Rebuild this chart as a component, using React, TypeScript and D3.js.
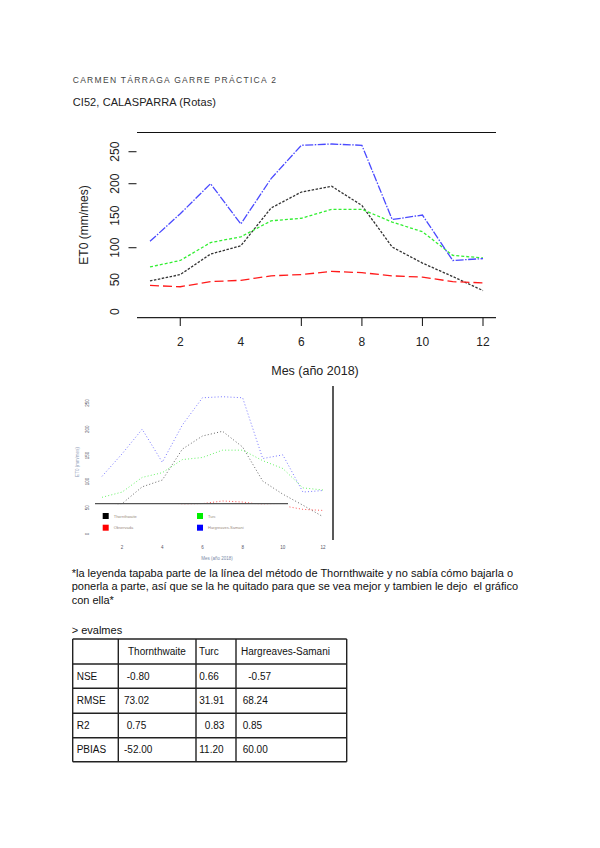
import * as d3 from "d3";

// meses 1..12 (2018)
const months = [1, 2, 3, 4, 5, 6, 7, 8, 9, 10, 11, 12];
const thornthwaite = [48, 58, 90, 103, 162, 187, 196, 166, 101, 76, 55, 33];
const turc = [70, 80, 108, 117, 142, 146, 160, 160, 140, 125, 88, 84];
const observada = [41, 39, 47, 49, 56, 58, 63, 61, 56, 54, 47, 45];
const hargreaves = [110, 153, 200, 137, 208, 260, 262, 260, 144, 151, 80, 83];

const yTickVals = [0, 50, 100, 150, 200, 250];
const yTickMarks = [100, 200, 250];
const xTickVals = [2, 4, 6, 8, 10, 12];
const xTickMarks = [2, 6, 8, 10, 12];

const series = [
  { name: "Thornthwaite", values: thornthwaite, color: "#333333", dash: "2.5,1.5" },
  { name: "Turc", values: turc, color: "#33ee33", dash: "3,2" },
  { name: "Observada", values: observada, color: "#ff1a1a", dash: "9,4" },
  { name: "Hargreaves-Samani", values: hargreaves, color: "#4a4aff", dash: "8,1.5,1.5,1.5" },
];

const legendItems = [
  { name: "Thornthwaite", color: "#000000", col: 0, row: 0 },
  { name: "Turc", color: "#00ee00", col: 1, row: 0 },
  { name: "Observada", color: "#ff0000", col: 0, row: 1 },
  { name: "Hargreaves-Samani", color: "#0000ff", col: 1, row: 1 },
];

const paragraph = [
  "*la leyenda tapaba parte de la línea del método de Thornthwaite y no sabía cómo bajarla o",
  "ponerla a parte, así que se la he quitado para que se vea mejor y tambien le dejo  el gráfico",
  "con ella*",
];

const tableHeader = ["", "Thornthwaite", "Turc", "Hargreaves-Samani"];
const tableRows = [
  ["NSE", " -0.80", "0.66", "  -0.57"],
  ["RMSE", "73.02", "31.91", "68.24"],
  ["R2", " 0.75", "  0.83", "0.85"],
  ["PBIAS", "-52.00", "11.20", "60.00"],
];

const FONT = "'Liberation Sans', Arial, sans-serif";

function MainChart() {
  const x = d3.scaleLinear([1, 12], [150, 483]);
  const y = d3.scaleLinear([0, 250], [311.7, 151.7]);
  const line = (vals: number[]) =>
    d3.line<number>().x((_, i) => x(months[i])).y((d) => y(d))(vals) ?? "";
  return (
    <g fontFamily={FONT}>
      <line x1={137} x2={496} y1={132.5} y2={132.5} stroke="#111" strokeWidth={1.2} />
      <line x1={137} x2={496} y1={317.7} y2={317.7} stroke="#222" strokeWidth={1.2} />
      {xTickMarks.map((t) => (
        <line key={t} x1={x(t)} x2={x(t)} y1={317.7} y2={326} stroke="#222" strokeWidth={1.1} />
      ))}
      {xTickVals.map((t) => (
        <text key={t} x={x(t)} y={346} textAnchor="middle" fontSize={12} fill="#222">{t}</text>
      ))}
      {yTickMarks.map((t) => (
        <line key={t} x1={128.5} x2={136.5} y1={y(t)} y2={y(t)} stroke="#222" strokeWidth={1.1} />
      ))}
      {yTickVals.map((t) => (
        <text key={t} transform={`translate(119,${y(t)}) rotate(-90)`} textAnchor="middle"
          fontSize={12} fill="#222">{t}</text>
      ))}
      <text transform="translate(88,225) rotate(-90)" textAnchor="middle" fontSize={12} fill="#222">
        ET0 (mm/mes)
      </text>
      <text x={315} y={375} textAnchor="middle" fontSize={12.5} fill="#222">Mes (año 2018)</text>
      {series.map((s) => (
        <path key={s.name} d={line(s.values)} fill="none" stroke={s.color}
          strokeWidth={1.3} strokeDasharray={s.dash} />
      ))}
    </g>
  );
}

function SmallChart() {
  const x = d3.scaleLinear([1, 12], [102, 323]);
  const y = d3.scaleLinear([0, 250], [534, 403]);
  const line = (vals: number[]) =>
    d3.line<number>().x((_, i) => x(months[i])).y((d) => y(d))(vals) ?? "";
  return (
    <g fontFamily={FONT}>
      {series.map((s) => (
        <path key={s.name} d={line(s.values)} fill="none" stroke={s.color} opacity={0.75}
          strokeWidth={1} strokeDasharray="1,2.2" />
      ))}
      {/* legend box */}
      <rect x={95} y={504.3} width={193} height={38} fill="#fff" />
      <line x1={95} x2={288} y1={503.7} y2={503.7} stroke="#555" strokeWidth={1.2} />
      {legendItems.map((l) => {
        const lx = l.col === 0 ? 105.7 : 200;
        const ly = l.row === 0 ? 516 : 527.7;
        return (
          <g key={l.name}>
            <rect x={lx - 3} y={ly - 3} width={6} height={6} fill={l.color} />
            <text x={lx + 8} y={ly + 1.5} fontSize={4} fill="#9a8c80">{l.name}</text>
          </g>
        );
      })}
      {xTickVals.map((t) => (
        <text key={t} x={x(t)} y={548.5} textAnchor="middle" fontSize={4.5} fill="#556">{t}</text>
      ))}
      {yTickVals.map((t) => (
        <text key={t} transform={`translate(88.5,${y(t)}) rotate(-90)`} textAnchor="middle"
          fontSize={4.5} fill="#556">{t}</text>
      ))}
      <text transform="translate(78.5,462) rotate(-90)" textAnchor="middle" fontSize={4.5} fill="#8fa0b8">
        ET0 (mm/mes)
      </text>
      <text x={217} y={559.5} textAnchor="middle" fontSize={4.5} fill="#7a8aa8">Mes (año 2018)</text>
      <line x1={333} x2={333} y1={386} y2={540} stroke="#222" strokeWidth={1.5} />
    </g>
  );
}

function Table() {
  const colX = [72.7, 118.3, 196, 236, 346.7];
  const rowY = [639, 664, 688.3, 713.3, 737.7, 761.7];
  const textX = [76.7, 124, 199.3, 242.7];
  const rows = [tableHeader, ...tableRows];
  return (
    <g fontFamily={FONT} fontSize={10} fill="#111">
      <text x={71.7} y={634} fontSize={11}>{">  evalmes"}</text>
      {colX.map((cx) => (
        <line key={cx} x1={cx} x2={cx} y1={rowY[0]} y2={rowY[5]} stroke="#222" strokeWidth={1.4} />
      ))}
      {rowY.map((ry) => (
        <line key={ry} x1={colX[0]} x2={colX[4]} y1={ry} y2={ry} stroke="#222" strokeWidth={1.4} />
      ))}
      {rows.map((r, ri) =>
        r.map((c, ci) => (
          <text key={`${ri}-${ci}`} x={ri === 0 && ci > 0 ? [0, 128, 199, 241][ci] : textX[ci]}
            y={(rowY[ri] + rowY[ri + 1]) / 2 + 3.5}
            xmlSpace="preserve" style={{ whiteSpace: "pre" }}>
            {c}
          </text>
        ))
      )}
    </g>
  );
}

export default function App() {
  return (
    <div style={{ position: "absolute", left: 0, top: 0, width: 600, height: 848, background: "#fff" }}>
      <svg width={600} height={848} style={{ display: "block" }}>
        <rect width={600} height={848} fill="#fff" />
        <text x={72.7} y={82.5} fontFamily={FONT} fontSize={8.5} letterSpacing={1.3} fill="#444">
          CARMEN TÁRRAGA GARRE PRÁCTICA 2
        </text>
        <text x={72.7} y={105.5} fontFamily={FONT} fontSize={11} letterSpacing={0.1} fill="#222">
          CI52, CALASPARRA (Rotas)
        </text>
        <MainChart />
        <SmallChart />
        <g fontFamily={FONT} fontSize={11} fill="#111">
          {paragraph.map((p, i) => (
            <text key={i} x={71.7} y={577 + i * 13.3} xmlSpace="preserve" style={{ whiteSpace: "pre" }}>{p}</text>
          ))}
        </g>
        <Table />
      </svg>
    </div>
  );
}
